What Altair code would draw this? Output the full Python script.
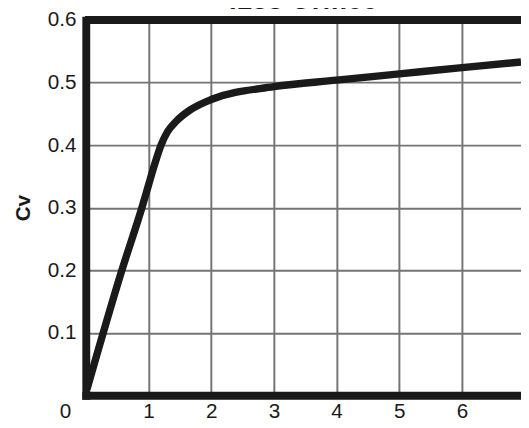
import altair as alt
import pandas as pd

# Data
x_vals = [0.02, 0.576, 0.895, 1.0, 1.1, 1.2, 1.3, 1.45, 1.66, 2.0, 3.0, 4.0, 5.0, 6.0, 6.94]
cv_vals = [0.01, 0.2, 0.3, 0.336, 0.37, 0.4, 0.421, 0.439, 0.456, 0.473, 0.4935, 0.504, 0.514, 0.524, 0.533]
x_ticks = [0, 1, 2, 3, 4, 5, 6]
y_ticks = [0.1, 0.2, 0.3, 0.4, 0.5, 0.6]

df = pd.DataFrame({"x": x_vals, "cv": cv_vals})

FONT = "Liberation Sans"
INK = "#1a1a1a"

x_scale = alt.Scale(domain=[0, 6.94], nice=False, zero=False)
y_scale = alt.Scale(domain=[0, 0.6], nice=False)

x_axis = alt.Axis(
    values=x_ticks, title=None, format="d",
    grid=True, gridColor="#747474", gridWidth=2,
    ticks=False, tickSize=0,
    domain=True, domainColor=INK, domainWidth=8, domainCap="square",
    labelFont=FONT, labelFontSize=21, labelColor=INK, labelPadding=6,
    labelOffset={"condition": {"test": "datum.value === 0", "value": -21}, "value": 0},
    labelFlush=False, labelOverlap=False,
)
y_axis = alt.Axis(
    values=y_ticks, title="Cv", format=".1f",
    grid=True, gridColor="#747474", gridWidth=2,
    ticks=False, tickSize=0,
    domain=True, domainColor=INK, domainWidth=8, domainCap="square",
    labelFont=FONT, labelFontSize=21, labelColor=INK, labelPadding=10,
    labelFlush=False, labelOverlap=False,
    titleFont=FONT, titleFontSize=21, titleFontWeight="bold", titleColor=INK,
    titlePadding=14,
)

line = alt.Chart(df).mark_line(color=INK, strokeWidth=7.5, interpolate="monotone", clip=True).encode(
    x=alt.X("x:Q", scale=x_scale, axis=x_axis),
    y=alt.Y("cv:Q", scale=y_scale, axis=y_axis),
)

top_border = alt.Chart(df).mark_rule(color=INK, strokeWidth=8).encode(
    y=alt.datum(0.6, scale=y_scale),
)

chart = alt.layer(line, top_border).properties(
    width=442,
    height=381,
    title=alt.TitleParams(
        text=".188 Orifice", font=FONT, fontSize=28, fontWeight="bold",
        color=INK, anchor="middle", offset=-6,
    ),
    autosize=alt.AutoSizeParams(type="none"),
    padding={"left": 79, "top": 9, "right": 0, "bottom": 30},
).configure_view(stroke=None).configure(background="white")

chart.save("out.html", embed_options={"renderer": "svg", "actions": False})
